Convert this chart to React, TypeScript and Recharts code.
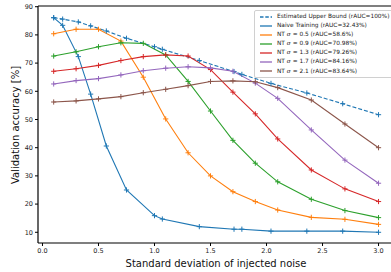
import React from 'react';
import { LineChart, Line, XAxis, YAxis, ReferenceLine } from 'recharts';

const naiveX = [0.1, 0.18, 0.32, 0.43, 0.57, 0.75, 1.0, 1.07, 1.4, 1.71, 1.78, 2.04, 2.36, 2.68, 3.0];
const upperY = [86.1, 85.6, 84.6, 83.2, 81.4, 78.8, 75.8, 74.9, 70.9, 67.0, 66.0, 62.8, 59.4, 55.6, 51.7];
const naiveY = [86.1, 83.4, 72.3, 59.0, 40.6, 25.0, 15.9, 14.7, 12.0, 11.1, 11.1, 10.4, 10.4, 10.4, 10.0];

const sigmaX = [0.1, 0.3, 0.5, 0.7, 0.9, 1.1, 1.3, 1.5, 1.7, 1.9, 2.1, 2.4, 2.7, 3.0];
const nt05 = [80.4, 82.0, 82.0, 77.8, 65.0, 50.2, 38.2, 30.0, 24.4, 20.9, 17.9, 15.3, 14.6, 12.8];
const nt09 = [72.5, 74.0, 75.8, 77.2, 77.0, 72.9, 63.5, 53.0, 42.6, 34.5, 27.9, 21.7, 17.7, 15.2];
const nt13 = [67.1, 68.0, 69.2, 70.9, 72.3, 72.9, 72.5, 67.7, 59.7, 52.0, 43.1, 32.1, 25.4, 20.9];
const nt17 = [62.6, 63.8, 64.5, 65.8, 67.3, 68.2, 68.7, 68.3, 67.1, 62.9, 57.5, 46.3, 35.6, 27.4];
const nt21 = [56.2, 56.6, 57.3, 58.1, 59.5, 60.7, 62.0, 63.5, 63.7, 63.4, 61.3, 56.9, 48.4, 40.0];

const xTicks = [0, 0.5, 1.0, 1.5, 2.0, 2.5, 3.0];
const yTicks = [10, 20, 30, 40, 50, 60, 70, 80, 90];

const legendNames = [
  'Estimated Upper Bound (rAUC=100%)',
  'Naive Training (rAUC=32.43%)',
  'NT σ = 0.5 (rAUC=58.6%)',
  'NT σ = 0.9 (rAUC=70.98%)',
  'NT σ = 1.3 (rAUC=79.26%)',
  'NT σ = 1.7 (rAUC=84.16%)',
  'NT σ = 2.1 (rAUC=83.64%)',
];

const colors = ['#1f77b4', '#1f77b4', '#ff7f0e', '#2ca02c', '#d62728', '#9467bd', '#8c564b'];

const toPts = (xs: number[], ys: number[]) => xs.map((x, i) => ({ x, y: ys[i] }));

const series = [
  { data: toPts(naiveX, upperY), dashed: true },
  { data: toPts(naiveX, naiveY), dashed: false },
  { data: toPts(sigmaX, nt05), dashed: false },
  { data: toPts(sigmaX, nt09), dashed: false },
  { data: toPts(sigmaX, nt13), dashed: false },
  { data: toPts(sigmaX, nt17), dashed: false },
  { data: toPts(sigmaX, nt21), dashed: false },
];

const FONT = '"DejaVu Sans", sans-serif';

const PlusDot = (color: string) => (props: any) => {
  const { cx, cy, index } = props;
  if (cx == null || cy == null) return <g key={index} />;
  const s = 2.6;
  return (
    <g key={index}>
      <line x1={cx - s} y1={cy} x2={cx + s} y2={cy} stroke={color} strokeWidth={1} />
      <line x1={cx} y1={cy - s} x2={cx} y2={cy + s} stroke={color} strokeWidth={1} />
    </g>
  );
};

const renderName = (name: string) => {
  const idx = name.indexOf('σ');
  if (idx < 0) return name;
  return (
    <>
      {name.slice(0, idx)}
      <span style={{ fontStyle: 'italic', fontFamily: '"DejaVu Serif", serif' }}>σ</span>
      {name.slice(idx + 1)}
    </>
  );
};

const LegendBox = () => (
  <div
    style={{
      position: 'absolute',
      left: 254,
      top: 10,
      border: '1px solid #d0d0d0',
      borderRadius: 2,
      background: 'rgba(255,255,255,0.85)',
      padding: '1px 0 1px 5px',
      width: 140,
      fontFamily: FONT,
      fontSize: 5.85,
      color: '#222',
      lineHeight: '9.1px',
    }}
  >
    {legendNames.map((n, i) => (
      <div key={i} style={{ display: 'flex', alignItems: 'center', height: 9.1, whiteSpace: 'nowrap' }}>
        <svg width={12} height={4} style={{ marginRight: 5, flex: 'none' }}>
          <line
            x1={0}
            y1={2}
            x2={12}
            y2={2}
            stroke={colors[i]}
            strokeWidth={1.3}
            strokeDasharray={i === 0 ? '3.5 1.8' : undefined}
          />
        </svg>
        <span>{renderName(n)}</span>
      </div>
    ))}
  </div>
);

export default function App() {
  return (
    <div style={{ position: 'absolute', left: 0, top: 0, width: 391, height: 272, overflow: 'hidden', background: '#fff' }}>
      <LineChart width={400} height={272} margin={{ top: 6, right: 5, bottom: 0, left: 0 }}>
        <XAxis
          dataKey="x"
          type="number"
          domain={[-0.04, 3.147]}
          ticks={xTicks}
          tickFormatter={(v: number) => v.toFixed(1)}
          allowDataOverflow
          axisLine={{ stroke: '#000', strokeWidth: 1.2 }}
          tickLine={{ stroke: '#000' }}
          tickSize={3}
          tick={{ fontSize: 6.5, fill: '#222', fontFamily: FONT }}
          height={29}
          label={{
            content: () => (
              <text x={216} y={263} textAnchor="middle" dominantBaseline="central" fontSize={10} fill="#111" fontFamily={FONT}>
                Standard deviation of injected noise
              </text>
            ),
          }}
        />
        <YAxis
          type="number"
          domain={[6.2, 90.25]}
          ticks={yTicks}
          allowDataOverflow
          axisLine={{ stroke: '#000', strokeWidth: 1.2 }}
          tickLine={{ stroke: '#000' }}
          tickSize={3}
          width={38}
          tick={{ fontSize: 6.5, fill: '#222', fontFamily: FONT }}
          label={{
            content: () => (
              <text
                x={15}
                y={125}
                transform="rotate(-90 15 125)"
                textAnchor="middle"
                dominantBaseline="central"
                fontSize={10}
                fill="#111"
                fontFamily={FONT}
              >
                Validation accuracy [%]
              </text>
            ),
          }}
        />
        <ReferenceLine y={90.25} stroke="#000" strokeWidth={1.2} />
        {series.map((s, i) => (
          <Line
            key={i}
            data={s.data}
            dataKey="y"
            name={legendNames[i]}
            stroke={colors[i]}
            strokeWidth={1.1}
            strokeDasharray={s.dashed ? '4 2' : undefined}
            dot={PlusDot(colors[i])}
            activeDot={false}
            isAnimationActive={false}
            type="linear"
          />
        ))}
      </LineChart>
      <LegendBox />
    </div>
  );
}
